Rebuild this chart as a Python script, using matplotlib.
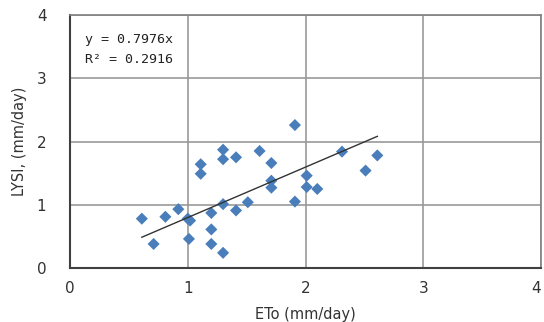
import matplotlib
matplotlib.use('Agg')
import matplotlib.pyplot as plt
import numpy as np

# ETo vs lysimeter values (mm/day)
eto = [0.61, 0.71, 0.81, 0.92, 1.00, 1.02, 1.01, 1.11, 1.11, 1.20, 1.20, 1.20,
       1.30, 1.30, 1.30, 1.30, 1.41, 1.41, 1.51, 1.61, 1.71, 1.71, 1.71, 1.91,
       1.91, 2.01, 2.01, 2.10, 2.31, 2.51, 2.61]
lysi = [0.78, 0.38, 0.81, 0.93, 0.78, 0.75, 0.46, 1.64, 1.49, 0.87, 0.61, 0.38,
        1.87, 1.72, 1.01, 0.24, 1.75, 0.91, 1.04, 1.85, 1.66, 1.38, 1.27, 2.26,
        1.05, 1.46, 1.28, 1.25, 1.84, 1.54, 1.78]
slope = 0.7976
r2 = 0.2916

fig = plt.figure(figsize=(5.44, 3.22), dpi=100)
ax = fig.add_axes([0.1287, 0.1677, 0.8658, 0.7857])

ax.scatter(eto, lysi, marker='D', s=38, color='#4A7EBB', edgecolors='none', zorder=3)

# trend line through origin, drawn over data range
xl = np.array([min(eto), max(eto)])
ax.plot(xl, slope * xl, color='#333333', lw=1.0, zorder=4)

ax.set_xlim(0, 4)
ax.set_ylim(0, 4)
ax.set_xticks([0, 1, 2, 3, 4])
ax.set_yticks([0, 1, 2, 3, 4])
ax.grid(True, color='#999999', lw=1.2)
ax.set_axisbelow(True)
ax.tick_params(length=0, labelsize=11, colors='#333333')
ax.tick_params(axis='x', pad=9)
ax.tick_params(axis='y', pad=17)
# keep the last x label inside the figure
ax.get_xticklabels()[-1].set_ha('right')

for s in ['left', 'bottom']:
    ax.spines[s].set_color('#404040')
    ax.spines[s].set_linewidth(1.5)
for s in ['top', 'right']:
    ax.spines[s].set_color('#808080')
    ax.spines[s].set_linewidth(1.2)

ax.set_xlabel('ETo (mm/day)', fontsize=10.5, color='#333333', labelpad=8)
ax.set_ylabel('LYSI, (mm/day)', fontsize=10.5, color='#333333', labelpad=7)

ax.text(0.125, 3.62, f'y = {slope}x', fontsize=9.5, family='DejaVu Sans Mono',
        color='#222222', va='center')
ax.text(0.125, 3.30, f'R² = {r2}', fontsize=9.5, family='DejaVu Sans Mono',
        color='#222222', va='center')

fig.savefig('out.png', dpi=100)
